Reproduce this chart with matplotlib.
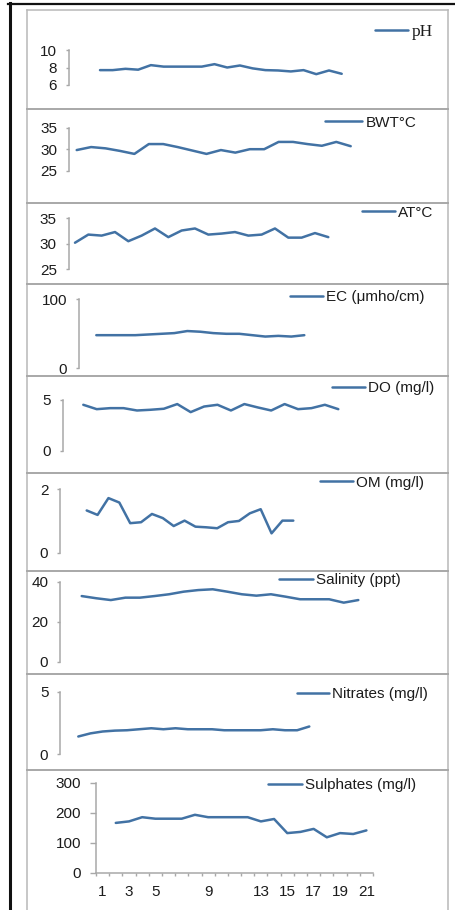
import matplotlib
matplotlib.use("Agg")
import matplotlib.pyplot as plt
from matplotlib.lines import Line2D
from matplotlib.patches import Rectangle

plt.rcParams["font.family"] = ["Liberation Sans", "DejaVu Sans"]

# ---- water-quality readings per sampling station ----
ph = [7.7, 7.7, 7.85, 7.75, 8.27, 8.1, 8.1, 8.1, 8.1, 8.38,
      8.0, 8.23, 7.9, 7.7, 7.66, 7.55, 7.7, 7.24, 7.66, 7.28]
bwt = [29.8, 30.5, 30.2, 29.6, 28.9, 31.2, 31.2, 30.5, 29.7, 28.9,
       29.8, 29.2, 30.0, 30.0, 31.7, 31.7, 31.2, 30.8, 31.7, 30.7]
at = [30.2, 31.8, 31.6, 32.3, 30.5, 31.6, 33.0, 31.3, 32.6, 33.0,
      31.8, 32.0, 32.3, 31.6, 31.8, 33.0, 31.2, 31.2, 32.1, 31.3]
ec = [48, 48, 48, 48, 49, 50, 51, 54, 53, 51, 50, 50, 48, 46, 47, 46, 48]
do = [4.51, 4.08, 4.18, 4.18, 3.95, 4.02, 4.12, 4.58, 3.79, 4.34,
      4.51, 3.95, 4.58, 4.25, 3.95, 4.58, 4.08, 4.18, 4.51, 4.08]
om = [1.33, 1.19, 1.72, 1.58, 0.93, 0.96, 1.22, 1.09, 0.84, 1.01,
      0.82, 0.80, 0.77, 0.96, 1.00, 1.24, 1.37, 0.61, 1.01, 1.01]
salinity = [32.8, 31.7, 30.8, 32.0, 32.0, 32.8, 33.7, 35.0, 35.8, 36.2,
            35.0, 33.7, 33.0, 33.7, 32.5, 31.2, 31.2, 31.2, 29.5, 30.8]
nitrates = [1.4, 1.65, 1.8, 1.87, 1.9, 1.98, 2.06, 1.98, 2.06, 1.98,
            1.98, 1.98, 1.9, 1.9, 1.9, 1.9, 1.98, 1.9, 1.9, 2.2]
sulphates = [167, 172, 186, 181, 181, 181, 194, 186, 186, 186,
             186, 172, 180, 133, 137, 147, 119, 133, 130, 142]
sulphate_stations = list(range(2, 22))
station_ticks = [1, 3, 5, 9, 13, 15, 17, 19, 21]

names = ["pH", "BWT\u00b0C", "AT\u00b0C", "EC (\u03bcmho/cm)", "DO (mg/l)",
         "OM (mg/l)", "Salinity (ppt)", "Nitrates (mg/l)", "Sulphates (mg/l)"]
values = [ph, bwt, at, ec, do, om, salinity, nitrates, sulphates]
ylims = [(6, 10), (25, 35), (25, 35), (0, 100), (0, 5), (0, 2), (0, 40), (0, 5), (0, 300)]
yticks = [[6, 8, 10], [25, 30, 35], [25, 30, 35], [0, 100], [0, 5], [0, 2],
          [0, 20, 40], [0, 5], [0, 100, 200, 300]]

# ---- layout in pixels (figure is 455 x 910) ----
W, H = 455, 910
LINE = "#4272a4"
AXC = "#a8a8a8"
TXT = "#1c1c1c"
FS = 11

# spine x, first point x, last point x, y of top limit, y of bottom limit,
# legend line start, legend line end, legend y
layout = [
    (68.5, 100.0, 341.7, 50.0, 85.0, 375, 408, 32.0),
    (69.0, 76.7, 350.7, 127.8, 170.6, 325, 362, 122.7),
    (68.7, 75.0, 328.3, 218.3, 269.2, 362, 395, 212.7),
    (79.0, 96.3, 304.3, 299.3, 368.3, 290, 323, 297.3),
    (63.0, 83.3, 338.3, 399.8, 450.7, 332, 365, 388.3),
    (60.3, 86.7, 293.3, 489.2, 552.7, 320, 353, 482.7),
    (60.3, 81.7, 358.3, 581.7, 661.5, 279, 313, 580.0),
    (60.3, 78.3, 309.3, 691.5, 754.0, 297, 329, 694.3),
    (96.0, None, None, 783.0, 873.0, 268, 302, 785.0),
]

fig = plt.figure(figsize=(W / 100, H / 100), dpi=100)


def fx(x):
    return x / W


def fy(y):
    return 1 - y / H


# outer black frame (top and left edges)
fig.add_artist(Line2D([fx(8), fx(455)], [fy(3.5), fy(3.5)], color="#111111", lw=1.6))
fig.add_artist(Line2D([fx(9.5), fx(9.5)], [fy(3), fy(910)], color="#111111", lw=2.2))

# gray panel frame and separators
frame_left, frame_right = 27, 448
fig.add_artist(Line2D([fx(frame_left), fx(frame_right)], [fy(10), fy(10)], color="#b8b8b8", lw=1.1))
for xx in (frame_left, frame_right):
    fig.add_artist(Line2D([fx(xx), fx(xx)], [fy(10), fy(910)], color="#b8b8b8", lw=1.1))
for yy in [109, 203, 284, 376, 473, 571, 674, 770]:
    fig.add_artist(Line2D([fx(frame_left), fx(frame_right)], [fy(yy), fy(yy)], color="#a8a8a8", lw=1.4))

for i, (name, vals, ylim, yt, lay) in enumerate(zip(names, values, ylims, yticks, layout)):
    spine, first, last, ytop, ybot, lx0, lx1, ly = lay
    last_panel = i == len(names) - 1
    if last_panel:
        right = 373.0
        xs = sulphate_stations
    else:
        right = last + 12
        xs = list(range(1, len(vals) + 1))
    ax = fig.add_axes([fx(spine), fy(ybot), (right - spine) / W, (ybot - ytop) / H])
    ax.patch.set_alpha(0)
    if last_panel:
        ax.set_xlim(0.5, 21.5)
    else:
        n = len(vals)
        dx = (last - first) / (n - 1)
        ax.set_xlim(1 - (first - spine) / dx, n + 12 / dx)
    ax.set_ylim(*ylim)
    line, = ax.plot(xs, vals, color=LINE, lw=1.8, solid_joinstyle="round",
                    solid_capstyle="round", clip_on=False)

    for s in ("top", "right"):
        ax.spines[s].set_visible(False)
    ax.spines["left"].set_color(AXC)
    ax.spines["left"].set_linewidth(1.1)
    ax.set_yticks(yt)
    ax.set_yticklabels([str(v) for v in yt])
    if last_panel:
        ax.tick_params(axis="y", length=4.3, width=1.0, color=AXC, pad=6.5,
                       labelsize=FS, labelcolor=TXT)
        ax.spines["bottom"].set_color(AXC)
        ax.spines["bottom"].set_linewidth(1.1)
        ax.set_xticks(station_ticks)
        ax.set_xticklabels([str(v) for v in station_ticks])
        ax.set_xticks([k + 0.5 for k in range(0, 22)], minor=True)
        ax.tick_params(axis="x", which="major", length=0, pad=8.5,
                       labelsize=FS, labelcolor=TXT)
        ax.tick_params(axis="x", which="minor", length=2.5, width=1.0, color=AXC)
    else:
        ax.spines["bottom"].set_visible(False)
        ax.set_xticks([])
        ax.tick_params(axis="y", length=2.3, width=1.0, color=AXC, pad=6.3,
                       labelsize=FS, labelcolor=TXT)

    if i == 0:
        lfs = 12.5
        lprops = {"family": ["Liberation Serif", "DejaVu Serif"], "size": lfs}
    else:
        lfs = FS
        lprops = {"family": ["Liberation Sans", "DejaVu Sans"], "size": lfs}
    fpx = lfs * 100 / 72
    leg = ax.legend([line], [name], loc="center left",
                    bbox_to_anchor=(fx(lx0), fy(ly)), bbox_transform=fig.transFigure,
                    frameon=False, borderpad=0, borderaxespad=0,
                    handlelength=(lx1 - lx0) / fpx, handletextpad=0.22, prop=lprops)
    for t in leg.get_texts():
        t.set_color(TXT)

fig.savefig("out.png", dpi=100)
